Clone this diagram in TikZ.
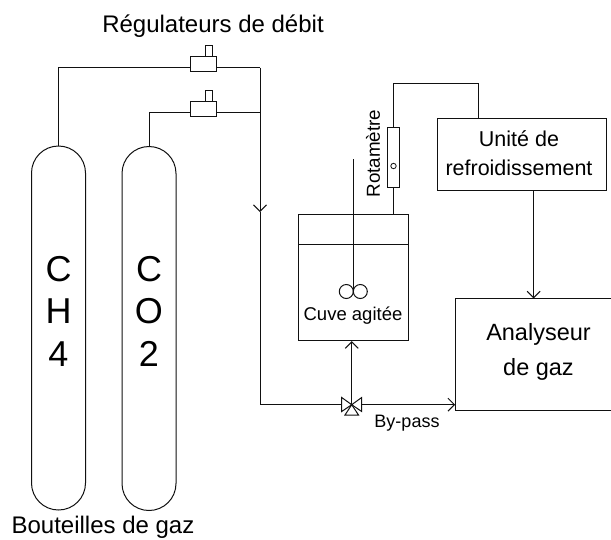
\documentclass[tikz,border=0pt]{standalone}
\usepackage{fontspec}
\setmainfont{Liberation Sans}
\usepackage{xcolor}
\usetikzlibrary{arrows.meta}
\definecolor{gazInk}{HTML}{111111}
\tikzset{
  pipe/.style      = {line width=1pt, draw=gazInk},
  flow/.style      = {pipe, -{Straight Barb[length=6.5pt, width=13pt]}},
  bottle/.style    = {rectangle, rounded corners=27pt, draw=gazInk, line width=1pt,
                      minimum width=54pt, minimum height=364pt, inner sep=0pt},
  bottlelbl/.style = {inner sep=0pt, align=center, font=\fontsize{36}{42.5}\selectfont},
  regbody/.style   = {rectangle, draw=gazInk, line width=1pt, fill=white,
                      minimum width=26pt, minimum height=15pt, inner sep=0pt},
  regstem/.style   = {rectangle, draw=gazInk, line width=1pt, fill=white,
                      minimum width=7.5pt, minimum height=11pt, inner sep=0pt},
  unitbox/.style   = {rectangle, draw=gazInk, line width=1pt, inner sep=0pt, align=center},
  paddle/.style    = {circle, draw=gazInk, line width=1pt, minimum size=14pt, inner sep=0pt},
  valvepart/.style = {pipe, fill=white, line join=miter},
  lbl/.style       = {inner sep=0pt, align=center},
}
\begin{document}
\begin{tikzpicture}[x=1pt, y=-1pt]
  \useasboundingbox (0,0) rectangle (611,539);

  % gas bottles
  \node[bottle] (ch) at (58.5,328) {};
  \node[bottle] (co) at (149,328.5) {};
  \node[bottlelbl] (chlabel) at (58.5,311) {C\\H\\4};
  \node[bottlelbl] (colabel) at (149,311) {C\\O\\2};
  \node[lbl, anchor=base, font=\fontsize{24}{28}\selectfont] (bottles) at (103,533) {Bouteilles de gaz};

  % flow regulators
  \node[regbody] (regch) at (203.5,63.5) {};
  \node[regstem] (stemch) at (209,50.5) {};
  \node[regbody] (regco) at (203.5,109) {};
  \node[regstem] (stemco) at (209,95.8) {};
  \node[lbl, font=\fontsize{24}{28}\selectfont] (reglabel) at (213,26) {Régulateurs de débit};

  % stirred tank and rotameter
  \node[unitbox, minimum width=109.5pt, minimum height=125.7pt] (tank) at (353.7,277.8) {};
  \coordinate (tankliq) at (299,244);
  \coordinate (tankliqr) at (408.4,244);
  \draw[pipe] (tankliq) -- (tankliqr);
  \coordinate (shafttop) at (353.3,159);
  \coordinate (shaftend) at (353.3,291);
  \draw[pipe] (shafttop) -- (shaftend);
  \node[paddle] (padl) at (346.3,291.5) {};
  \node[paddle] (padr) at (360.3,291.5) {};
  \node[lbl, font=\fontsize{18.5}{22}\selectfont] (tanklabel) at (353,316) {Cuve agitée};
  \node[unitbox, minimum width=11.6pt, minimum height=60pt] (rota) at (393.5,157.3) {};
  \node[circle, draw=gazInk, line width=0.8pt, minimum size=5.4pt, inner sep=0pt] (rotaball) at (393.5,166) {};
  \node[lbl, rotate=90, font=\fontsize{18.8}{22}\selectfont] (rotalabel) at (373,153.5) {Rotamètre};

  % cooling unit and analyser
  \node[unitbox, minimum width=169.4pt, minimum height=71.3pt] (cool) at (522,154.6) {};
  \node[lbl, font=\fontsize{21.5}{29}\selectfont] (coollabel) at (519,153.5) {Unité de\\refroidissement};
  \node[unitbox, minimum width=160pt, minimum height=111.7pt] (ana) at (535.7,354.8) {};
  \node[lbl, font=\fontsize{23.5}{35}\selectfont] (analabel) at (538.5,352) {Analyseur\\de gaz};

  % valve
  \coordinate (valve) at (351.7,404.7);
  \coordinate (valvebl) at (345,415);
  \coordinate (valvebr) at (358.5,415);
  \draw[valvepart] (valve) -- (valvebl) -- (valvebr) -- cycle;
  \coordinate (valvelt) at (341.7,397.5);
  \coordinate (valvelb) at (341.7,411.5);
  \coordinate (valvert) at (361.7,397.5);
  \coordinate (valverb) at (361.7,411.5);

  % gas lines
  \coordinate (maintop) at (260,67.7);
  \coordinate (mainco) at (260,112.7);
  \coordinate (mainmid) at (260,212);
  \coordinate (mainbot) at (260,404.7);
  \draw[pipe] (ch.north) |- ([yshift=-4.2pt]regch.west);
  \draw[pipe] (co.north) |- ([yshift=-3.7pt]regco.west);
  \draw[pipe] ([yshift=-4.2pt]regch.east) -- (maintop);
  \draw[pipe] ([yshift=-3.7pt]regco.east) -- (mainco);
  \draw[flow] (maintop) -- (mainmid);
  \draw[pipe] (mainmid) -- (mainbot) -- (valve);
  \draw[flow] (valve) -- (tank.south -| valve);
  \draw[flow] (valve) -- (ana.west |- valve);
  \draw[valvepart] (valve) -- (valvelt) -- (valvelb) -- cycle;
  \draw[valvepart] (valve) -- (valvert) -- (valverb) -- cycle;
  \node[lbl, font=\fontsize{18}{21}\selectfont] (bypass) at (407,423) {By-pass};

  % outlet lines
  \coordinate (rotatop) at (393.5,83.3);
  \coordinate (cooltop) at (478,83.3);
  \coordinate (anain) at (533.7,250);
  \draw[pipe] (rota.south) -- (tank.north -| rota.south);
  \draw[pipe] (rota.north) -- (rotatop) -- (cooltop) -- (cool.north -| cooltop);
  \draw[flow] (cool.south -| anain) -- (ana.north -| anain);
\end{tikzpicture}
\end{document}
